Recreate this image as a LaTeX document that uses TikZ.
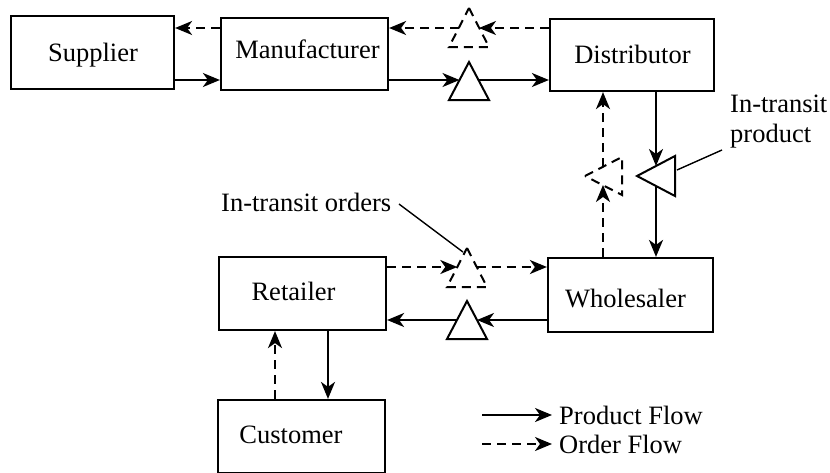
\documentclass[tikz,border=0pt]{standalone}
\usepackage{fontspec}
\setmainfont{Liberation Serif}
\usetikzlibrary{arrows.meta}
\begin{document}
\begin{tikzpicture}[x=1pt,y=-1pt,
  box/.style={draw, line width=2.2pt, minimum width=165pt, minimum height=73pt, inner sep=0pt},
  txt/.style={font=\fontsize{26.5}{30}\selectfont, inner sep=0pt},
  tip/.style={-{Stealth[length=17pt,width=14pt,inset=5pt]}},
  prod/.style={tip, line width=2pt},
  ord/.style={tip, line width=2pt, dash pattern=on 9pt off 6pt},
  tri/.style={line width=2pt, line join=miter},
  dtri/.style={tri, dash pattern=on 9pt off 6pt},
  leader/.style={line width=1.4pt}
]
\useasboundingbox (0,0) rectangle (830,472);

% boxes
\node[box, minimum width=163pt] (sup) at (92.5,52.5) {};
\node[box, minimum width=167pt, minimum height=72pt] (man) at (304.5,54) {};
\node[box, minimum width=164pt, minimum height=72pt] (dis) at (632,55) {};
\node[box, minimum width=167pt] (ret) at (302.5,293.5) {};
\node[box, minimum height=74pt] (who) at (630.5,295) {};
\node[box, minimum width=167pt] (cus) at (301.5,436.5) {};

% box texts
\node[txt, anchor=base] (sup-t) at (93,61) {Supplier};
\node[txt, anchor=base] (man-t) at (307.5,58) {Manufacturer};
\node[txt, anchor=base] (dis-t) at (632.5,63) {Distributor};
\node[txt, anchor=base] (who-t) at (625.5,307) {Wholesaler};
\node[txt, anchor=base] (ret-t) at (293.5,300) {Retailer};
\node[txt, anchor=base] (cus-t) at (291,443) {Customer};

% in-transit triangles
\draw[dtri] (469,8) -- (489,47) -- (449,47) -- cycle;
\draw[tri]  (469,62) -- (489,100) -- (449,100) -- cycle;
\draw[dtri] (467,248) -- (487,287) -- (447,287) -- cycle;
\draw[tri]  (467,301) -- (487,339) -- (447,339) -- cycle;
\draw[tri]  (637,176) -- (675,156) -- (675,196) -- cycle;
\draw[dtri] (585,176) -- (622,157) -- (622,195) -- cycle;

\coordinate (t1l) at (459,28);   \coordinate (t1r) at (479,28);
\coordinate (t2l) at (459.5,80); \coordinate (t2r) at (478.5,80);
\coordinate (t3l) at (457.3,267);\coordinate (t3r) at (476.7,267);
\coordinate (t4l) at (457,320);  \coordinate (t4r) at (477,320);
\coordinate (t5t) at (656,166);  \coordinate (t5b) at (656,186);
\coordinate (t6t) at (603,167);  \coordinate (t6b) at (603,185);
\coordinate (rc1) at (275,0);    \coordinate (rc2) at (328,0);

% top row
\draw[ord] (man.west |- t1l) -- (sup.east |- t1l);
\draw[ord] (t1l) -- (man.east |- t1l);
\draw[ord] (dis.west |- t1r) -- (t1r);
\draw[prod] (sup.east |- t2l) -- (man.west |- t2l);
\draw[prod] (man.east |- t2l) -- (t2l);
\draw[prod] (t2r) -- (dis.west |- t2r);

% distributor - wholesaler
\draw[prod] (dis.south -| t5t) -- (t5t);
\draw[prod] (t5b) -- (who.north -| t5b);
\draw[ord] (who.north -| t6b) -- (t6b);
\draw[ord] (t6t) -- (dis.south -| t6t);

% wholesaler - retailer
\draw[ord] (ret.east |- t3l) -- (t3l);
\draw[ord] (t3r) -- (who.west |- t3r);
\draw[prod] (who.west |- t4r) -- (t4r);
\draw[prod] (t4l) -- (ret.east |- t4l);

% retailer - customer
\draw[ord] (cus.north -| rc1) -- (ret.south -| rc1);
\draw[prod] (ret.south -| rc2) -- (cus.north -| rc2);

% labels
\node[txt, anchor=base west, align=left] (itp) at (730,142) {In-transit\\product};
\coordinate (itp-a) at (677,170); \coordinate (itp-b) at (722,150);
\draw[leader] (itp-a) -- (itp-b);
\node[txt, anchor=base west] (ito) at (221,211) {In-transit orders};
\coordinate (ito-a) at (399,204); \coordinate (ito-b) at (463,252);
\draw[leader] (ito-a) -- (ito-b);

% legend
\coordinate (lp) at (482,415); \coordinate (lo) at (482,444);
\node[txt, anchor=base west] (lpt) at (559,424) {Product Flow};
\node[txt, anchor=base west] (lot) at (559,453) {Order Flow};
\draw[prod] (lp) -- ++(70,0);
\draw[ord] (lo) -- ++(70,0);
\end{tikzpicture}
\end{document}
